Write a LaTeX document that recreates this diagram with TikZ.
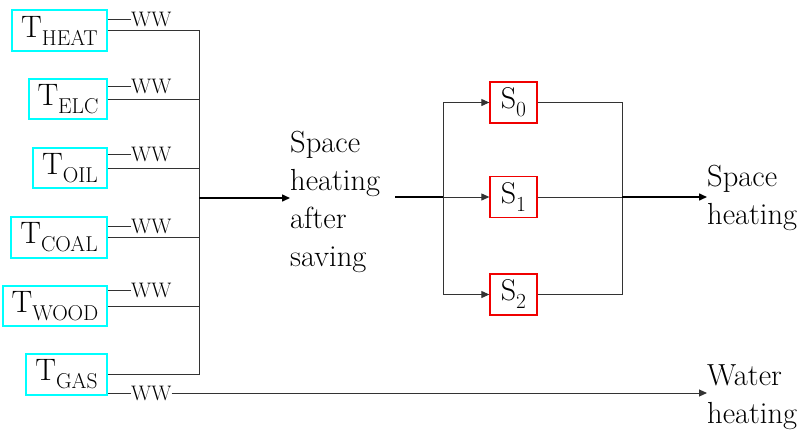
\documentclass[tikz,border=0pt]{standalone}
\usetikzlibrary{arrows.meta}
\definecolor{boxcyan}{RGB}{0,255,255}
\definecolor{boxred}{RGB}{240,0,0}
\newcommand{\lowsub}[1]{\raisebox{-8pt}{\fontsize{21.5}{21.5}\selectfont #1}}
\tikzset{
  tbox/.style={draw=boxcyan, line width=1.3pt, inner sep=0pt, font=\fontsize{31}{31}\selectfont},
  sbox/.style={draw=boxred, line width=1.3pt, inner sep=0pt, minimum width=47pt, minimum height=41pt, font=\fontsize{30}{30}\selectfont},
  wwlbl/.style={anchor=west, inner sep=0pt, font=\fontsize{21}{21}\selectfont},
  wire/.style={draw=black!80, line width=1pt},
  tip/.style={-{Triangle[length=8pt,width=7pt]}},
  flow/.style={draw=black, line width=1.5pt},
  lbl/.style={inner sep=0pt, align=left, font=\fontsize{30.5}{38}\selectfont},
}
\begin{document}
\begin{tikzpicture}[x=1pt,y=-1pt]
\useasboundingbox (0,0) rectangle (803,429);
% source boxes
\node[tbox, minimum width=95pt, minimum height=41pt] (heat) at (59.5,30.5) {T\lowsub{HEAT}};
\node[tbox, minimum width=78pt, minimum height=40pt] (elc) at (68,99) {T\lowsub{ELC}};
\node[tbox, minimum width=74pt, minimum height=40pt] (oil) at (70,168) {T\lowsub{OIL}};
\node[tbox, minimum width=96pt, minimum height=41pt] (coal) at (59,237.5) {T\lowsub{COAL}};
\node[tbox, minimum width=104pt, minimum height=40pt] (wood) at (55,306) {T\lowsub{WOOD}};
\node[tbox, minimum width=81pt, minimum height=41pt] (gas) at (66.5,374.5) {T\lowsub{GAS}};
% WW labels
\node[wwlbl] (w1) at (131,19) {WW};
\node[wwlbl] (w2) at (131,86) {WW};
\node[wwlbl] (w3) at (131,154) {WW};
\node[wwlbl] (w4) at (131,226) {WW};
\node[wwlbl] (w5) at (131,290) {WW};
\node[wwlbl] (w6) at (131,393) {WW};
\foreach \b/\w in {heat/w1,elc/w2,oil/w3,coal/w4,wood/w5,gas/w6}
  \draw[wire] (\w.west) -- (\w.west -| \b.east);
% collecting bus
\coordinate (bus) at (199,198);
\draw[wire] (heat.east) -- (heat.east -| bus) -- (gas.east -| bus) -- (gas.east);
\foreach \b in {elc,oil,coal,wood}
  \draw[wire] (\b.east) -- (\b.east -| bus);
% middle label
\node[lbl, anchor=north west] (mid) at (290,131) {Space\\heating\\after\\saving};
\draw[flow, tip] (bus) -- (bus -| mid.west);
% savings
\node[sbox] (s0) at (513.5,102.5) {S\lowsub{0}};
\node[sbox] (s1) at (513.5,197) {S\lowsub{1}};
\node[sbox] (s2) at (513.5,294.5) {S\lowsub{2}};
\coordinate (m2) at (395,197);
\coordinate (b2) at (443,197);
\draw[flow] (m2) -- (b2);
\draw[wire] (s0.west -| b2) -- (s2.west -| b2);
\draw[wire, tip] (s0.west -| b2) -- (s0.west);
\draw[wire, tip] (b2) -- (s1.west);
\draw[wire, tip] (s2.west -| b2) -- (s2.west);
\coordinate (b3) at (622,197);
\draw[wire] (s0.east) -- (s0.east -| b3) -- (s2.east -| b3) -- (s2.east);
\draw[wire] (s1.east) -- (b3);
% outputs
\node[lbl, anchor=west] (sh) at (707,198) {Space\\heating};
\node[lbl, anchor=west] (wh) at (707,397) {Water\\heating};
\draw[flow, tip] (b3) -- (b3 -| sh.west);
\draw[wire, tip] (w6.east) -- (w6.east -| wh.west);
\end{tikzpicture}
\end{document}
